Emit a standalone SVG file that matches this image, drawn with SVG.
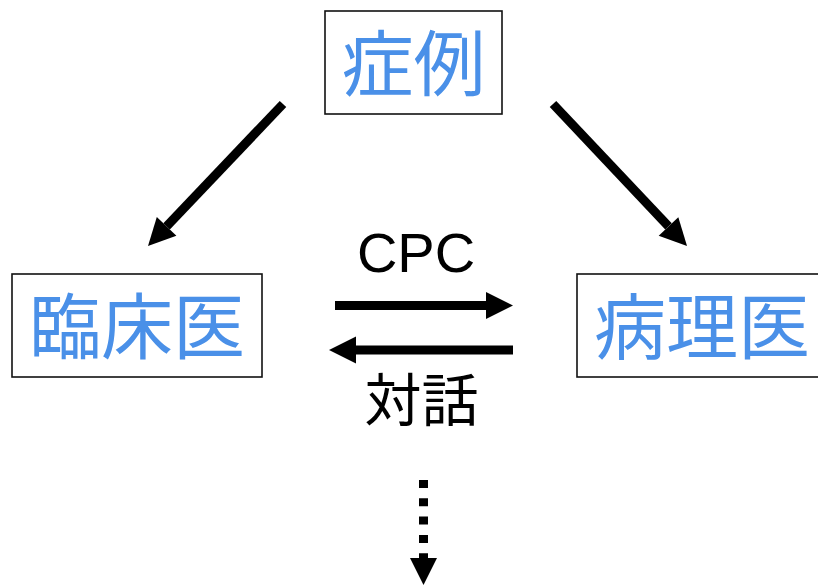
<svg xmlns="http://www.w3.org/2000/svg" width="818" height="585" viewBox="0 0 818 585">
<style>
.box{fill:#fff;stroke:#111;stroke-width:1.6}
.lbl{font-family:"Noto Sans CJK JP","Noto Sans CJK SC",sans-serif;font-size:72px;fill:#4A90E8;text-anchor:middle}
.edge{stroke:#000;stroke-width:9;fill:none}
.elbl{fill:#000;text-anchor:middle}
</style>
<defs>
<marker id="ah" markerUnits="strokeWidth" markerWidth="3" markerHeight="3" refX="0" refY="1.5" orient="auto" overflow="visible">
<path d="M0,0 L3,1.5 L0,3 z" fill="#000"/>
</marker>
</defs>
<rect width="818" height="585" fill="#fff"/>
<g id="node-case">
<rect class="box" x="325" y="11" width="177" height="103"/>
<text class="lbl" x="413.5" y="90">症例</text>
</g>
<g id="node-clinician">
<rect class="box" x="12" y="274" width="250" height="103"/>
<text class="lbl" x="137" y="353">臨床医</text>
</g>
<g id="node-pathologist">
<rect class="box" x="577" y="274" width="250" height="103"/>
<text class="lbl" x="702" y="353">病理医</text>
</g>
<g id="connectors">
<line class="edge" x1="283" y1="104" x2="166.6" y2="226.4" marker-end="url(#ah)"/>
<line class="edge" x1="553" y1="104" x2="668.5" y2="226.4" marker-end="url(#ah)"/>
<line class="edge" x1="335" y1="305.5" x2="486" y2="305.5" marker-end="url(#ah)"/>
<line class="edge" x1="513" y1="350" x2="356" y2="350" marker-end="url(#ah)"/>
<line class="edge" x1="423.5" y1="480" x2="423.5" y2="558" stroke-dasharray="8 10.3" marker-end="url(#ah)"/>
<text class="elbl" x="416" y="272" font-family="'Liberation Sans',Arial,sans-serif" font-size="56">CPC</text>
<text class="elbl" x="421.5" y="421" font-family="'Noto Sans CJK JP','Noto Sans CJK SC',sans-serif" font-size="57">対話</text>
</g>
</svg>
